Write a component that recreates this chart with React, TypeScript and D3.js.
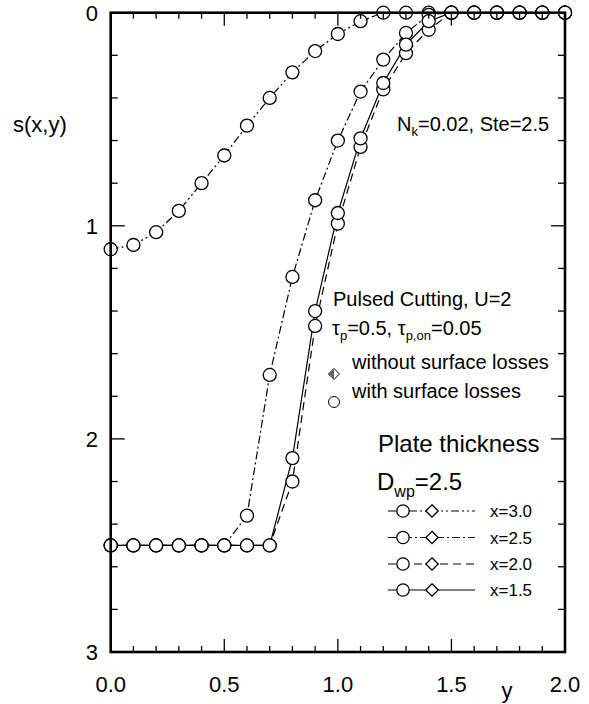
import React from "react";
import * as d3 from "d3";

// position along the plate (horizontal axis "y")
const yGrid = [0.0, 0.1, 0.2, 0.3, 0.4, 0.5, 0.6, 0.7, 0.8, 0.9, 1.0, 1.1, 1.2, 1.3, 1.4, 1.5, 1.6, 1.7, 1.8, 1.9, 2.0];
// s(x,y) for each x
const sX30 = [1.11, 1.09, 1.03, 0.93, 0.80, 0.67, 0.53, 0.40, 0.28, 0.18, 0.10, 0.04, 0, 0, 0, 0, 0, 0, 0, 0, 0];
const sX25 = [2.5, 2.5, 2.5, 2.5, 2.5, 2.5, 2.36, 1.70, 1.24, 0.88, 0.60, 0.37, 0.22, 0.095, 0.01, 0, 0, 0, 0, 0, 0];
const sX20 = [2.5, 2.5, 2.5, 2.5, 2.5, 2.5, 2.5, 2.5, 2.20, 1.47, 0.99, 0.63, 0.36, 0.19, 0.08, 0, 0, 0, 0, 0, 0];
const sX15 = [2.5, 2.5, 2.5, 2.5, 2.5, 2.5, 2.5, 2.5, 2.09, 1.40, 0.94, 0.59, 0.33, 0.15, 0.04, 0, 0, 0, 0, 0, 0];

const seriesLabels = ["x=3.0", "x=2.5", "x=2.0", "x=1.5"];
const seriesDash = ["8,3,2,3,2,3", "8,3,2,3", "8,5", "none"];
const xTickLabels = ["0.0", "0.5", "1.0", "1.5", "2.0"];
const yTickLabels = ["0", "1", "2", "3"];

const W = 589;
const H = 704;
const FONT = "'Liberation Sans', Arial, Helvetica, sans-serif";

export default function App() {
  const x = d3.scaleLinear().domain([0, 2]).range([110.7, 565]);
  const y = d3.scaleLinear().domain([0, 3]).range([12.7, 652]);
  const [x0, x1] = x.range();
  const [y0, y1] = y.range();

  const series = [sX30, sX25, sX20, sX15];
  const line = d3
    .line<number>()
    .x((_, i) => x(yGrid[i]))
    .y((d) => y(d));

  const xMinor = d3.range(0, 21).map((i) => i / 10);
  const yMinor = d3.range(0, 16).map((i) => i / 5);

  const diamond = (cx: number, cy: number, r: number) =>
    `M${cx},${cy - r}L${cx + r},${cy}L${cx},${cy + r}L${cx - r},${cy}Z`;

  const legendRows = [511, 537.5, 564, 590];

  return (
    <svg
      width={W}
      height={H}
      style={{ position: "absolute", left: 0, top: 0, background: "#fff" }}
      fontFamily={FONT}
    >
      <rect x={0} y={0} width={W} height={H} fill="#fff" />
      {/* series lines */}
      {series.map((s, k) => (
        <path
          key={"l" + k}
          d={line(s) || ""}
          fill="none"
          stroke="#000"
          strokeWidth={1.2}
          strokeDasharray={seriesDash[k]}
        />
      ))}
      {/* markers */}
      {series.map((s, k) =>
        s.map((v, i) => (
          <circle
            key={"c" + k + "-" + i}
            cx={x(yGrid[i])}
            cy={y(v)}
            r={6.5}
            fill="#fff"
            stroke="#000"
            strokeWidth={1.3}
          />
        ))
      )}

      {/* ticks */}
      {xMinor.map((t, i) => {
        const len = i % 5 === 0 ? 13 : 6;
        return (
          <g key={"xt" + i}>
            <line x1={x(t)} x2={x(t)} y1={y1} y2={y1 - len} stroke="#000" strokeWidth={1.3} />
            <line x1={x(t)} x2={x(t)} y1={y0} y2={y0 + len} stroke="#000" strokeWidth={1.3} />
          </g>
        );
      })}
      {yMinor.map((t, i) => {
        const len = i % 5 === 0 ? 14 : 7;
        return (
          <g key={"yt" + i}>
            <line x1={x0} x2={x0 + len} y1={y(t)} y2={y(t)} stroke="#000" strokeWidth={1.3} />
            <line x1={x1} x2={x1 - len} y1={y(t)} y2={y(t)} stroke="#000" strokeWidth={1.3} />
          </g>
        );
      })}
      {/* frame */}
      <rect x={x0} y={y0} width={x1 - x0} height={y1 - y0} fill="none" stroke="#000" strokeWidth={2.6} />

      {/* tick labels */}
      {xTickLabels.map((lab) => (
        <text key={"xl" + lab} x={x(+lab)} y={692} fontSize={22} textAnchor="middle">
          {lab}
        </text>
      ))}
      {yTickLabels.map((lab) => (
        <text key={"yl" + lab} x={98} y={y(+lab) + 8} fontSize={22} textAnchor="end">
          {lab}
        </text>
      ))}
      <text x={507} y={698} fontSize={22} textAnchor="middle">y</text>
      <text x={13} y={132} fontSize={22}>s(x,y)</text>

      {/* annotations */}
      <text x={397} y={131} fontSize={20}>
        N<tspan fontSize={13} dy={5}>k</tspan>
        <tspan dy={-5}>=0.02, Ste=2.5</tspan>
      </text>
      <text x={333} y={306} fontSize={20}>Pulsed Cutting, U=2</text>
      <text x={332} y={335} fontSize={20}>
        τ<tspan fontSize={13} dy={5}>p</tspan>
        <tspan dy={-5}>=0.5, τ</tspan>
        <tspan fontSize={13} dy={5}>p,on</tspan>
        <tspan dy={-5}>=0.05</tspan>
      </text>
      <path d={diamond(334, 374, 5.5)} fill="#fff" stroke="#000" strokeWidth={1} />
      <path d={`M334,368.5L328.5,374L334,379.5Z`} fill="#666" />
      <text x={352} y={369} fontSize={20}>without surface losses</text>
      <circle cx={334} cy={402} r={5.5} fill="#fff" stroke="#000" strokeWidth={1} />
      <text x={352} y={398} fontSize={20}>with surface losses</text>

      <text x={378} y={452} fontSize={24}>Plate thickness</text>
      <text x={377} y={490} fontSize={24}>
        D<tspan fontSize={16} dy={7}>wp</tspan>
        <tspan dy={-7}>=2.5</tspan>
      </text>

      {/* legend */}
      {legendRows.map((ry, k) => (
        <g key={"lg" + k}>
          <line
            x1={388}
            x2={475}
            y1={ry}
            y2={ry}
            stroke="#000"
            strokeWidth={1.2}
            strokeDasharray={seriesDash[k]}
          />
          <circle cx={403} cy={ry} r={6.2} fill="#fff" stroke="#000" strokeWidth={1.3} />
          <path d={diamond(432, ry, 6.2)} fill="#fff" stroke="#000" strokeWidth={1.3} />
          <text x={490} y={ry + 6} fontSize={17}>
            {seriesLabels[k]}
          </text>
        </g>
      ))}
    </svg>
  );
}
